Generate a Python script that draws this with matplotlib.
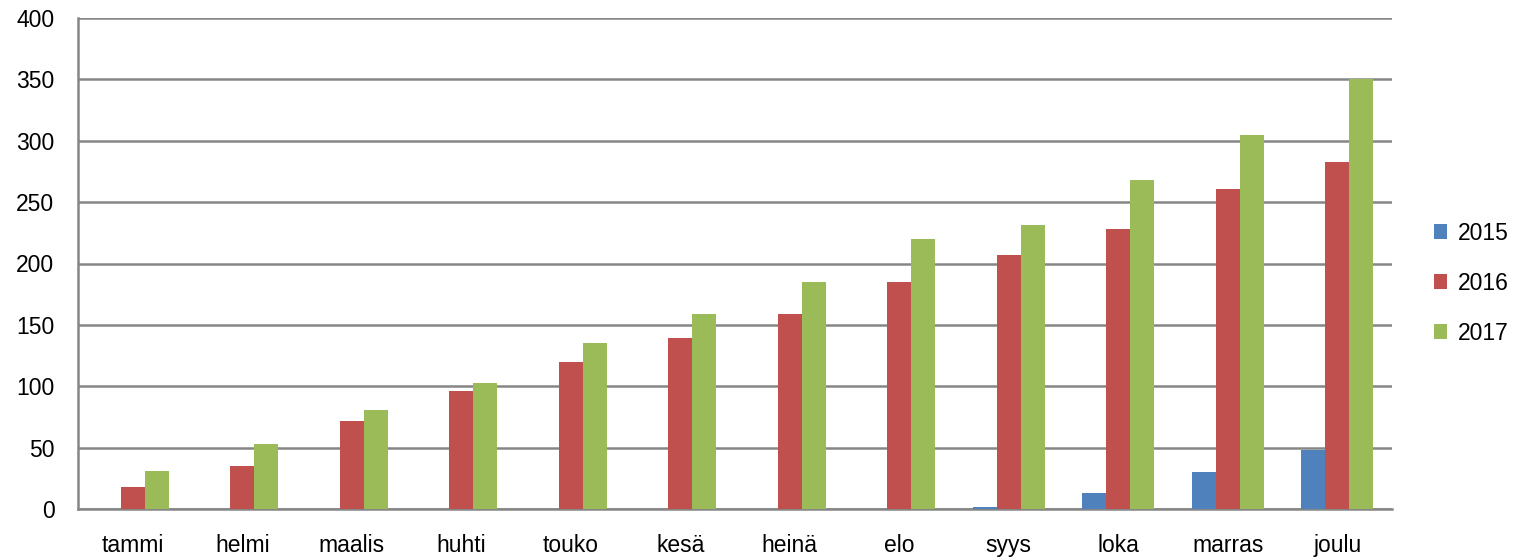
import matplotlib.pyplot as plt
import numpy as np

plt.rcParams['font.family'] = ['Liberation Sans', 'DejaVu Sans']

months = ['tammi', 'helmi', 'maalis', 'huhti', 'touko', 'kesä',
          'heinä', 'elo', 'syys', 'loka', 'marras', 'joulu']
v2015 = [0, 0, 0, 0, 0, 0, 0, 0, 2, 13, 30, 48]
v2016 = [18, 35, 72, 96, 120, 139, 159, 185, 207, 228, 261, 283]
v2017 = [31, 53, 81, 103, 135, 159, 185, 220, 231, 268, 305, 350]
years = ['2015', '2016', '2017']
colors = ['#4F81BD', '#C0504D', '#9BBB59']

fig = plt.figure(figsize=(15.22, 5.57), dpi=100)
ax = fig.add_axes([78/1522, 1-509/557, (1392-78)/1522, (509-18)/557])

x = np.arange(len(months))
w = 0.22
for i, (vals, lab) in enumerate(zip([v2015, v2016, v2017], years)):
    ax.bar(x + (i-1)*w, vals, w, color=colors[i], label=lab, zorder=3)

ax.set_xlim(-0.5, 11.5)
ax.set_ylim(0, 400)
ax.set_yticks(range(0, 401, 50))
ax.set_xticks(x)
ax.set_xticklabels(months)
ax.yaxis.grid(True, color='#868686', linewidth=1.8, zorder=0)
for s in ['top', 'right']:
    ax.spines[s].set_visible(False)
for s in ['left', 'bottom']:
    ax.spines[s].set_color('#868686')
    ax.spines[s].set_linewidth(1.8)
ax.tick_params(length=0, labelsize=16.5)
ax.tick_params(axis='x', pad=18)
ax.tick_params(axis='y', pad=17)

ax.legend(loc='center left', bbox_to_anchor=(1.016, 0.46), frameon=False,
          fontsize=16.5, handlelength=0.6, handleheight=0.6,
          labelspacing=1.18, handletextpad=0.45)

fig.savefig('out.png', dpi=100)
